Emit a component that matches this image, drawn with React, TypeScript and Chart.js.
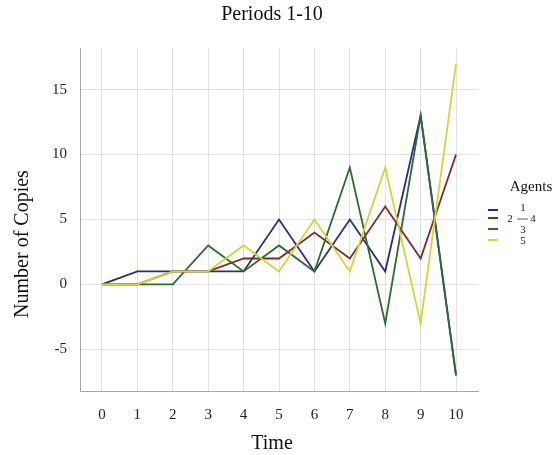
import { useEffect, useRef } from "react";
import { Chart, registerables } from "chart.js";

Chart.register(...registerables);

const times = [0, 1, 2, 3, 4, 5, 6, 7, 8, 9, 10];
const agent1 = [0, 1, 1, 1, 1, 5, 1, 5, 1, 13, -7];
const agent2 = [0, 0, 1, 1, 2, 2, 4, 2, 6, 2, 10];
const agent3 = [0, 0, 0, 3, 1, 3, 1, 9, -3, 13, -7];
const agent4 = [0, 0, 1, 1, 3, 1, 5, 1, 9, -3, 17];
const xTicks = [0, 1, 2, 3, 4, 5, 6, 7, 8, 9, 10];
const yTicks = [-5, 0, 5, 10, 15];
const seriesNames = ["1", "2", "3", "5"];
const seriesColors = ["#2c2c7c", "#7c2b2b", "#2f6a30", "#d4d43a"];
const titleText = "Periods 1-10";
const xTitle = "Time";
const yTitle = "Number of Copies";
const legendTitle = "Agents";

const FONT = "'Liberation Serif', 'DejaVu Serif', serif";

const textPlugin = {
  id: "textPlugin",
  afterDraw(chart: any) {
    const ctx = chart.ctx as CanvasRenderingContext2D;
    ctx.save();
    ctx.fillStyle = "#111";
    ctx.textAlign = "center";
    ctx.textBaseline = "alphabetic";
    // main title
    ctx.font = `20px ${FONT}`;
    ctx.fillText(titleText, 272, 20);
    // x title
    ctx.font = `20px ${FONT}`;
    ctx.fillText(xTitle, 272, 449);
    // y title
    ctx.save();
    ctx.translate(28, 244);
    ctx.rotate(-Math.PI / 2);
    ctx.fillText(yTitle, 0, 0);
    ctx.restore();
    // legend
    ctx.font = `15px ${FONT}`;
    ctx.fillText(legendTitle, 531, 191);
    const keyY = [210, 218, 229, 240];
    seriesColors.forEach((c, i) => {
      ctx.strokeStyle = c;
      ctx.lineWidth = 2;
      ctx.beginPath();
      ctx.moveTo(488, keyY[i]);
      ctx.lineTo(498, keyY[i]);
      ctx.stroke();
    });
    ctx.font = `11px ${FONT}`;
    ctx.textBaseline = "middle";
    ctx.fillStyle = "#222";
    ctx.fillText(seriesNames[0], 523, 208);
    ctx.fillText(seriesNames[1], 510, 219);
    ctx.fillText("4", 533, 219);
    ctx.fillText(seriesNames[2], 523, 230);
    ctx.fillText(seriesNames[3], 523, 241);
    ctx.strokeStyle = "#333";
    ctx.lineWidth = 0.8;
    ctx.beginPath();
    ctx.moveTo(517, 219);
    ctx.lineTo(528, 219);
    ctx.stroke();
    ctx.restore();
  },
};

export default function App() {
  const ref = useRef<HTMLCanvasElement | null>(null);
  useEffect(() => {
    if (!ref.current) return;
    const all = [agent1, agent2, agent3, agent4];
    const chart = new Chart(ref.current, {
      type: "line",
      data: {
        datasets: all.map((vals, i) => ({
          label: seriesNames[i],
          data: vals.map((v, j) => ({ x: times[j], y: v })),
          borderColor: seriesColors[i],
          backgroundColor: seriesColors[i],
          borderWidth: 1.8,
          pointRadius: 0,
          tension: 0,
          fill: false,
          order: all.length - i,
        })),
      },
      options: {
        responsive: false,
        animation: false,
        devicePixelRatio: 1,
        layout: { padding: { top: 48, right: 77, bottom: 0, left: 0 } },
        plugins: {
          legend: { display: false },
          title: { display: false },
          tooltip: { enabled: false },
        },
        scales: {
          x: {
            type: "linear",
            min: -0.62,
            max: 10.62,
            afterFit: (s: any) => {
              s.height = 64;
            },
            afterBuildTicks: (s: any) => {
              s.ticks = xTicks.map((v) => ({ value: v }));
            },
            grid: { color: "#e2e2e2", lineWidth: 1, drawTicks: false },
            border: { display: true, color: "#a8a8a8", width: 1 },
            ticks: {
              padding: 15,
              color: "#222",
              font: { family: FONT, size: 15 },
              maxRotation: 0,
              autoSkip: false,
            },
          },
          y: {
            type: "linear",
            min: -8.2,
            max: 18.2,
            afterFit: (s: any) => {
              s.width = 80;
            },
            afterBuildTicks: (s: any) => {
              s.ticks = yTicks.map((v) => ({ value: v }));
            },
            grid: { color: "#e2e2e2", lineWidth: 1, drawTicks: false },
            border: { display: true, color: "#a8a8a8", width: 1 },
            ticks: {
              padding: 13,
              color: "#222",
              font: { family: FONT, size: 15 },
            },
          },
        },
      },
      plugins: [textPlugin],
    });
    return () => chart.destroy();
  }, []);
  return (
    <div style={{ position: "absolute", left: 0, top: 0, width: 555, height: 455, background: "#fff" }}>
      <canvas ref={ref} width={555} height={455} style={{ width: 555, height: 455, display: "block" }} />
    </div>
  );
}
